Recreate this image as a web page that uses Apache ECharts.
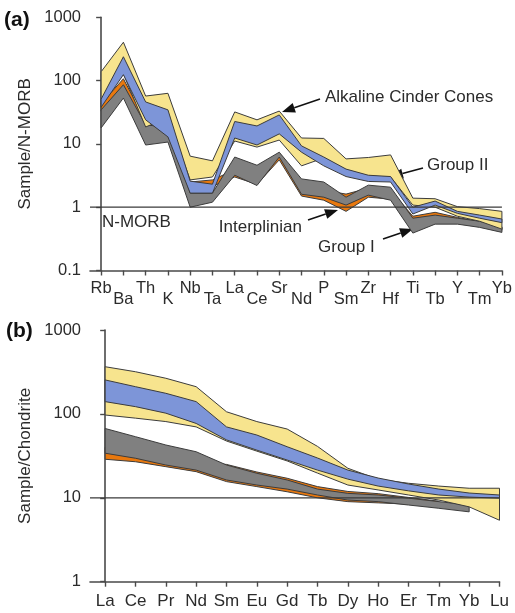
<!DOCTYPE html>
<html>
<head>
<meta charset="utf-8">
<script src="https://cdn.jsdelivr.net/npm/echarts@6/dist/echarts.min.js"></script>
<style>
  html, body { margin: 0; padding: 0; background: #fff; }
  #chart { width: 515px; height: 613px; }
</style>
</head>
<body>
<div id="chart"></div>
<script>
// ---- Panel (a): N-MORB normalised trace elements ----
const spiderElements = ['Rb','Ba','Th','K','Nb','Ta','La','Ce','Sr','Nd','P','Sm','Zr','Hf','Ti','Tb','Y','Tm','Yb'];
const cinderHiA = [138, 404, 57, 63, 6.4, 5.4, 32, 24, 33, 12.4, 12.2, 5.8, 6.1, 6.7, 1.39, 1.36, 1.02, 0.95, 0.86];
const cinderLoA = [43, 128, 18.5, 26, 2.7, 3.0, 11.1, 8.9, 11.5, 4.5, 6.0, 3.9, 3.1, 3.0, 1.08, 1.0, 0.72, 0.6, 0.45];
const group2HiA = [51, 238, 46, 34.5, 2.58, 2.31, 22.6, 19.2, 28.7, 9.3, 6.2, 4.0, 3.2, 3.05, 1.0, 1.25, 0.86, 0.75, 0.65];
const group2LoA = [38, 124, 24, 12.9, 1.67, 1.67, 12.4, 9.6, 14.4, 7.4, 4.5, 3.05, 2.55, 2.5, 0.78, 1.08, 0.80, 0.67, 0.57];
const group1HiA = [34.5, 86, 19.9, 18.5, 1.67, 1.67, 6.2, 4.6, 7.4, 2.8, 2.5, 1.44, 2.23, 2.07, 0.67, 0.75, 0.67, 0.6, 0.49];
const group1LoA = [17.9, 53, 9.6, 10.7, 1.0, 1.2, 3.2, 2.2, 6.2, 1.6, 1.44, 1.08, 1.55, 1.29, 0.39, 0.54, 0.54, 0.48, 0.40];
const interHiA  = [43, 107, 23, 16.6, 2.5, 2.7, 3.9, 2.9, 7.2, 2.4, 1.86, 1.61, 2.0, 1.86, 0.72, 0.83, 0.69, 0.59, 0.48];
const interLoA  = [33, 83, 16.6, 12.4, 2.0, 2.15, 3.0, 2.3, 5.6, 1.5, 1.29, 0.86, 1.44, 1.34, 0.60, 0.67, 0.58, 0.50, 0.43];
const yTicksA = [0.1, 1, 10, 100, 1000];
const refLevelA = 1;

// ---- Panel (b): chondrite normalised REE ----
const reeElements = ['La','Ce','Pr','Nd','Sm','Eu','Gd','Tb','Dy','Ho','Er','Tm','Yb','Lu'];
const cinderHiB = [365, 318, 266, 211, 106, 81, 66, 41, 22.5, 16.6, 14.9, 13.8, 13.0, 13.0];
const cinderLoB = [97, 89, 81, 70, 47.5, 36, 27.5, 19.7, 14.2, 12.4, 10.8, 9.4, 7.8, 5.4];
const group2HiB = [254, 211, 176, 140, 70, 56, 40.6, 29.8, 21.4, 17.2, 14.6, 12.7, 11.4, 10.8];
const group2LoB = [140, 122, 102, 77, 49, 37, 28.2, 21.4, 16.7, 13.8, 12.1, 10.8, 10.2, 9.9];
const group1HiB = [67, 53.5, 42.6, 35.4, 24.6, 19.6, 16.3, 12.7, 11.3, 10.8, 9.9, 9.0, 8.2, null];
const group1LoB = [34, 29.6, 24.6, 21.4, 16.3, 14.2, 12.7, 10.8, 9.4, 9.0, 8.2, 7.5, 6.8, null];
const interHiB  = [40, 34, 29, 26, 25.0, 20.3, 17.1, 13.6, 11.9, 11.2, 10.1, 9.1, null, null];
const interLoB  = [28.8, 26.9, 23.5, 20.5, 15.6, 13.6, 11.8, 10.0, 9.0, 8.7, 8.4, 7.7, null, null];
const yTicksB = [1, 10, 100, 1000];
const refLevelB = 10;

const FONT = '"Liberation Sans", Arial, Helvetica, sans-serif';
const INK = '#2b2b2b';
const AXIS = '#4a4a4a';
const COLORS = { cinder: '#f7e48e', group2: '#7d95d8', group1: '#808080', inter: '#e8780e' };

const range = n => Array.from({ length: n }, (_, i) => i);

// Envelope polygon between an upper and a lower profile
function band(xi, yi, upper, lower, fill, z) {
  return {
    type: 'custom', xAxisIndex: xi, yAxisIndex: yi, z, silent: true,
    data: [[0, upper[0]]],
    renderItem(params, api) {
      const top = [], bot = [];
      upper.forEach((v, i) => {
        if (v != null && lower[i] != null) {
          top.push(api.coord([i, v]));
          bot.push(api.coord([i, lower[i]]));
        }
      });
      return {
        type: 'polygon',
        shape: { points: top.concat(bot.reverse()) },
        style: { fill, stroke: '#3c3c3c', lineWidth: 1 }
      };
    }
  };
}

function refLine(xi, yi, level, xmax) {
  return {
    type: 'line', xAxisIndex: xi, yAxisIndex: yi, z: 20, silent: true,
    symbol: 'none', data: [[-0.5, level], [xmax, level]],
    lineStyle: { color: '#3a3a3a', width: 1.2 }
  };
}

function yAxisDef(gridIndex, ticks, name, gap) {
  return {
    type: 'log', logBase: 10, gridIndex, position: 'left',
    min: ticks[0], max: ticks[ticks.length - 1],
    name, nameLocation: 'middle', nameGap: gap, nameRotate: 90,
    nameTextStyle: { fontFamily: FONT, fontSize: 17, color: INK },
    axisLine: { show: true, lineStyle: { color: AXIS, width: 1.6 } },
    axisTick: { show: true, length: 5, lineStyle: { color: AXIS, width: 1.4 } },
    axisLabel: {
      fontFamily: FONT, fontSize: 16.5, color: INK, margin: 9,
      formatter: v => (v < 1 ? Number(v).toFixed(1) : String(Math.round(v)))
    },
    splitLine: { show: false }
  };
}

function xAxisDef(gridIndex, cats, labelIdx, opts) {
  const last = cats.length - 1;
  return Object.assign({
    type: 'value', gridIndex, position: 'bottom', offset: 0, min: -0.5, max: last,
    axisLine: { show: true, lineStyle: { color: AXIS, width: 1.6 } },
    axisTick: { show: true, length: 5, customValues: range(cats.length), lineStyle: { color: AXIS, width: 1.4 } },
    axisLabel: {
      customValues: labelIdx, fontFamily: FONT, fontSize: 16.5, color: INK, margin: 9,
      formatter: v => cats[Math.round(v)] || ''
    },
    splitLine: { show: false }
  }, opts || {});
}

const evenIdx = range(spiderElements.length).filter(i => i % 2 === 0);
const oddIdx = range(spiderElements.length).filter(i => i % 2 === 1);

function arrow(x1, y1, x2, y2) {
  const a = Math.atan2(y2 - y1, x2 - x1);
  const L = 13, W = 5;
  const bx = x2 - L * Math.cos(a), by = y2 - L * Math.sin(a);
  const nx = -Math.sin(a) * W, ny = Math.cos(a) * W;
  return [
    { type: 'line', shape: { x1, y1, x2: bx, y2: by }, style: { stroke: '#111', lineWidth: 1.6 } },
    { type: 'polygon', shape: { points: [[x2, y2], [bx + nx, by + ny], [bx - nx, by - ny]] }, style: { fill: '#111' } }
  ];
}

function label(text, x, y, align, size, weight) {
  return {
    type: 'text', x, y,
    style: {
      text, fill: weight ? '#111' : INK, align: align || 'left', verticalAlign: 'middle',
      font: (weight || 'normal') + ' ' + (size || 17) + 'px ' + FONT
    }
  };
}

const chart = echarts.init(document.getElementById('chart'), null, { renderer: 'canvas' });

chart.setOption({
  animation: false,
  backgroundColor: '#fff',
  grid: [
    { left: 90, top: 17.3, width: 412, height: 253.2 },
    { left: 90, top: 330, width: 409.5, height: 251.7 }
  ],
  xAxis: [
    xAxisDef(0, spiderElements, evenIdx),
    xAxisDef(0, spiderElements, oddIdx, {
      axisLine: { show: false }, axisTick: { show: false },
      axisLabel: {
        customValues: oddIdx, fontFamily: FONT, fontSize: 16.5, color: INK, margin: 20,
        formatter: v => spiderElements[Math.round(v)] || ''
      }
    }),
    xAxisDef(1, reeElements, range(reeElements.length), {
      axisLabel: {
        customValues: range(reeElements.length), fontFamily: FONT, fontSize: 17, color: INK, margin: 11,
        formatter: v => reeElements[Math.round(v)] || ''
      }
    })
  ],
  yAxis: [
    yAxisDef(0, yTicksA, 'Sample/N-MORB', 53),
    yAxisDef(1, yTicksB, 'Sample/Chondrite', 50)
  ],
  series: [
    band(0, 0, interHiA, interLoA, COLORS.inter, 2),
    band(0, 0, group1HiA, group1LoA, COLORS.group1, 3),
    band(0, 0, cinderHiA, cinderLoA, COLORS.cinder, 4),
    band(0, 0, group2HiA, group2LoA, COLORS.group2, 5),
    refLine(0, 0, refLevelA, spiderElements.length - 1),
    band(2, 1, interHiB, interLoB, COLORS.inter, 2),
    band(2, 1, group1HiB, group1LoB, COLORS.group1, 3),
    band(2, 1, cinderHiB, cinderLoB, COLORS.cinder, 4),
    band(2, 1, group2HiB, group2LoB, COLORS.group2, 5),
    refLine(2, 1, refLevelB, reeElements.length - 1)
  ],
  graphic: [
    label('(a)', 4, 20, 'left', 21, 'bold'),
    label('(b)', 6, 331, 'left', 21, 'bold'),
    label('N-MORB', 102, 222),
    label('Alkaline Cinder Cones', 325, 97),
    ...arrow(320, 99, 282, 112),
    label('Group II', 427, 165),
    ...arrow(423, 168, 390, 177),
    label('Interplinian', 302, 227, 'right'),
    ...arrow(308, 220, 338, 210),
    label('Group I', 318, 247),
    ...arrow(383, 239, 413, 229)
  ]
});
</script>
</body>
</html>
